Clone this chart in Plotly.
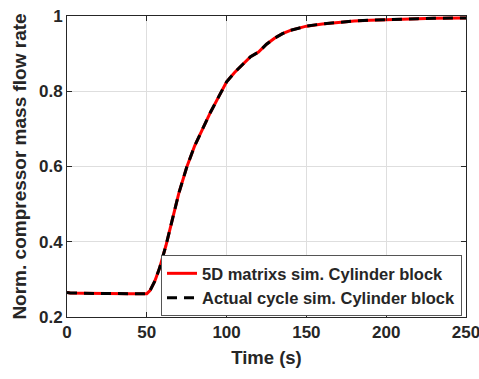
import plotly.graph_objects as go

time_s = [0, 2, 10, 20, 30, 40, 50, 52, 55, 58, 62, 66, 70, 75, 80, 85, 90, 95, 100,
          105, 110, 115, 120, 125, 130, 135, 140, 145, 150, 160, 170, 180, 190, 200,
          210, 220, 230, 240, 250]
sim_5d = [0.265, 0.264, 0.263, 0.262, 0.262, 0.262, 0.262, 0.27, 0.295, 0.33, 0.39,
          0.456, 0.528, 0.598, 0.655, 0.70, 0.745, 0.785, 0.825, 0.85, 0.872, 0.892,
          0.904, 0.925, 0.941, 0.953, 0.962, 0.968, 0.973, 0.979, 0.984, 0.987, 0.989,
          0.991, 0.992, 0.993, 0.994, 0.994, 0.995]
sim_actual = [0.265, 0.264, 0.263, 0.262, 0.262, 0.262, 0.262, 0.27, 0.295, 0.33, 0.39,
              0.456, 0.528, 0.598, 0.655, 0.70, 0.745, 0.785, 0.825, 0.85, 0.872, 0.892,
              0.904, 0.925, 0.941, 0.953, 0.962, 0.968, 0.973, 0.979, 0.984, 0.987, 0.989,
              0.991, 0.992, 0.993, 0.994, 0.994, 0.995]
x_ticks = [0, 50, 100, 150, 200, 250]
x_tick_labels = ["0", "50", "100", "150", "200", "250"]
y_ticks = [0.2, 0.4, 0.6, 0.8, 1.0]
y_tick_labels = ["0.2", "0.4", "0.6", "0.8", "1"]

txt = "#262626"
fam = "Liberation Sans, Arial, sans-serif"

def f(size):
    return dict(family=fam, color=txt, weight="bold", size=size)

fig = go.Figure()
fig.add_trace(go.Scatter(x=time_s, y=sim_5d, mode="lines",
                         name="5D matrixs sim. Cylinder block",
                         line=dict(color="#ff0000", width=3)))
fig.add_trace(go.Scatter(x=time_s, y=sim_actual, mode="lines",
                         name="Actual cycle sim. Cylinder block",
                         line=dict(color="#000000", width=3, dash="10px,7px")))

axis_common = dict(showline=True, linecolor=txt, linewidth=1, mirror="ticks",
                   ticks="inside", ticklen=5, tickcolor=txt, automargin=False,
                   ticklabeloverflow="allow",
                   showgrid=True, gridcolor="#dedede", gridwidth=1, zeroline=False,
                   tickfont=f(17))

fig.update_xaxes(range=[0, 250], tickvals=x_ticks, ticktext=x_tick_labels,
                 title=dict(text="Time (s)", font=f(18.5), standoff=9),
                 **axis_common)
fig.update_yaxes(range=[0.2, 1.0], tickvals=y_ticks, ticktext=y_tick_labels,
                 title=dict(text="Norm. compressor mass flow rate",
                            font=f(19), standoff=7),
                 **axis_common)

fig.update_layout(
    width=479, height=379,
    margin=dict(l=67, r=13, t=16, b=62),
    paper_bgcolor="white", plot_bgcolor="white",
    font=f(16),
    legend=dict(x=0.99, y=0.003, xanchor="right", yanchor="bottom",
                bgcolor="white", bordercolor="#555555", borderwidth=1,
                font=f(16.5), tracegroupgap=0, itemwidth=30),
)

fig.write_html("out.html", config={"displayModeBar": False},
               post_script="document.body.style.margin='0';document.body.style.padding='0';")
